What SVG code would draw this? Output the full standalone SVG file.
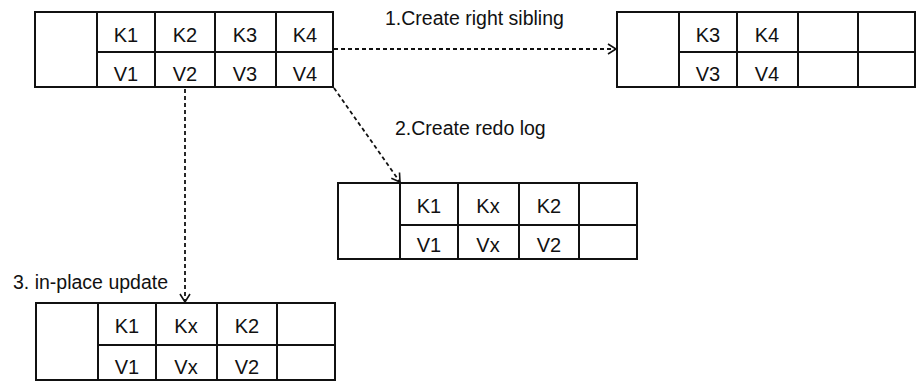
<svg xmlns="http://www.w3.org/2000/svg" width="917" height="383" viewBox="0 0 917 383">
  <style>
    .box { fill: #fff; stroke: #111; stroke-width: 2; }
    .grid { stroke: #111; stroke-width: 2; fill: none; }
    .cell { font-family: "Liberation Sans", Arial, sans-serif; font-size: 20px; fill: #111; text-anchor: middle; }
    .label { font-family: "Liberation Sans", Arial, sans-serif; font-size: 19.5px; fill: #111; }
    .edge { stroke: #111; stroke-width: 1.8; stroke-dasharray: 4 3; fill: none; }
  </style>
  <defs>
    <marker id="open-arrow" markerUnits="userSpaceOnUse" markerWidth="12" markerHeight="14" refX="9" refY="6" orient="auto">
      <path d="M1,1 L9,6 L1,11" fill="none" stroke="#111" stroke-width="1.6" stroke-dasharray="none"/>
    </marker>
  </defs>

  <rect width="917" height="383" fill="#fff"/>

  <!-- original leaf page -->
  <g id="page-original">
    <rect class="box" x="35" y="12" width="298" height="75"/>
    <path class="grid" d="M97,12 V87 M155,12 V87 M215,12 V87 M276,12 V87 M97,52 H333"/>
    <text class="cell" x="126" y="42">K1</text>
    <text class="cell" x="185" y="42">K2</text>
    <text class="cell" x="245" y="42">K3</text>
    <text class="cell" x="305" y="42">K4</text>
    <text class="cell" x="126" y="81">V1</text>
    <text class="cell" x="185" y="81">V2</text>
    <text class="cell" x="245" y="81">V3</text>
    <text class="cell" x="305" y="81">V4</text>
  </g>

  <!-- new right sibling page -->
  <g id="page-sibling">
    <rect class="box" x="617" y="12" width="298" height="75"/>
    <path class="grid" d="M679,12 V87 M737,12 V87 M798,12 V87 M858,12 V87 M679,52 H915"/>
    <text class="cell" x="708" y="42">K3</text>
    <text class="cell" x="767" y="42">K4</text>
    <text class="cell" x="708" y="81">V3</text>
    <text class="cell" x="767" y="81">V4</text>
  </g>

  <!-- redo log page -->
  <g id="page-redo">
    <rect class="box" x="338" y="183" width="299" height="76"/>
    <path class="grid" d="M400,183 V259 M458,183 V259 M519,183 V259 M579,183 V259 M400,225 H637"/>
    <text class="cell" x="429" y="213">K1</text>
    <text class="cell" x="488" y="213">Kx</text>
    <text class="cell" x="549" y="213">K2</text>
    <text class="cell" x="429" y="252">V1</text>
    <text class="cell" x="488" y="252">Vx</text>
    <text class="cell" x="549" y="252">V2</text>
  </g>

  <!-- page after in-place update -->
  <g id="page-updated">
    <rect class="box" x="36" y="303" width="299" height="77"/>
    <path class="grid" d="M98,303 V380 M156,303 V380 M217,303 V380 M277,303 V380 M98,345 H335"/>
    <text class="cell" x="127" y="333">K1</text>
    <text class="cell" x="186" y="333">Kx</text>
    <text class="cell" x="247" y="333">K2</text>
    <text class="cell" x="127" y="374">V1</text>
    <text class="cell" x="186" y="374">Vx</text>
    <text class="cell" x="247" y="374">V2</text>
  </g>

  <!-- connectors -->
  <g id="connectors">
    <line class="edge" x1="334" y1="49" x2="616" y2="49" marker-end="url(#open-arrow)"/>
    <line class="edge" x1="334" y1="88" x2="400" y2="182" marker-end="url(#open-arrow)"/>
    <line class="edge" x1="185" y1="89" x2="185" y2="302" marker-end="url(#open-arrow)"/>
    <text class="label" x="385" y="25">1.Create right sibling</text>
    <text class="label" x="395" y="135">2.Create redo log</text>
    <text class="label" x="13" y="289">3. in-place update</text>
  </g>
</svg>
